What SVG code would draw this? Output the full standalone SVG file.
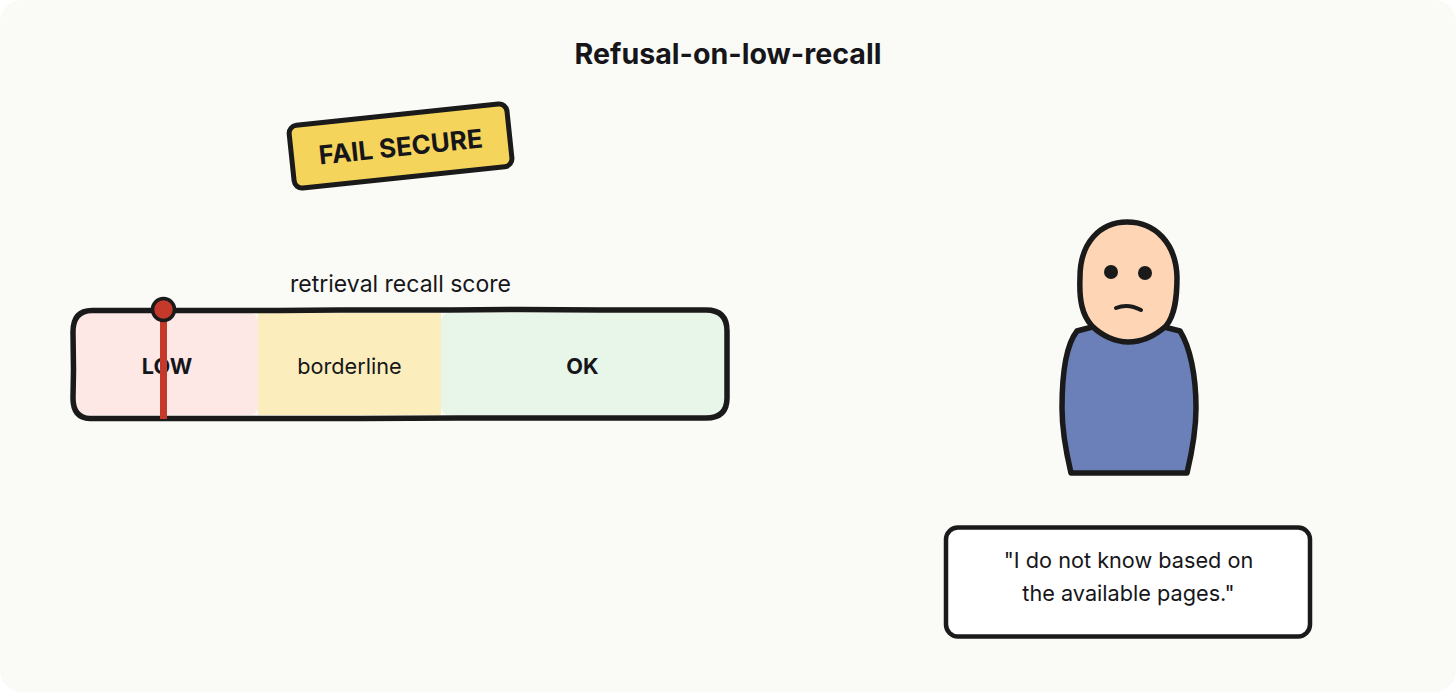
<svg xmlns="http://www.w3.org/2000/svg" width="1456" height="692" viewBox="0 0 1456 692">
<style>
text{font-family:Inter,"Liberation Sans",sans-serif;fill:#16161a;text-anchor:middle}
.ink{stroke:#1a1a1a;stroke-width:5;stroke-linejoin:round;stroke-linecap:round}
.lbl{font-size:21.7px}
.b{font-weight:700}
.sp{font-size:21.7px}
</style>
<rect width="1456" height="692" fill="#fff"/>
<rect width="1456" height="692" rx="22" fill="#fafaf6"/>
<text id="title" x="728" y="64" font-size="28.6" class="b">Refusal-on-low-recall</text>
<g id="badge" transform="rotate(-6 400.500 145.500)">
<rect x="291" y="114.500" width="219" height="63" rx="8" fill="#f5d45c" class="ink"/>
<text x="400.500" y="156" font-size="26" class="b">FAIL SECURE</text>
</g>
<text id="axis-label" x="400.500" y="291.500" style="font-size:23px">retrieval recall score</text>
<g id="meter">
<rect x="76" y="313" width="182" height="102" rx="8" fill="#fde8e6"/>
<rect x="258" y="313" width="183" height="102" fill="#fbeebc"/>
<rect x="441" y="313" width="284" height="102" rx="8" fill="#e8f5e9"/>
<path d="M92 310.500H210L280 310.500L340 310H450L520 309.500L600 310H706Q727 310 727 331V398Q727 418 706 418H460L360 418.500H90Q73 418 73 398L73.500 370L73 332Q73 310.500 92 310.500Z" fill="none" class="ink" style="stroke-width:5.500"/>
<text x="167" y="373.500" class="lbl b">LOW</text>
<text x="349.500" y="373.500" class="lbl">borderline</text>
<text x="582.500" y="373.500" class="lbl b">OK</text>
</g>
<g id="marker">
<rect x="160" y="312" width="7" height="107" fill="#c5392b"/>
<circle cx="163.500" cy="309.500" r="11" fill="#c5392b" stroke="#1a1a1a" stroke-width="3.500"/>
</g>
<g id="person">
<path d="M1077 331C1066 345 1062 375 1062 408C1062 430 1066 452 1071 473H1187C1192 452 1196 430 1196 408C1196 375 1190 347 1180 331L1160 326H1096Z" fill="#6b80b8" class="ink" style="stroke-width:5.500"/>
<path d="M1127 222C1100 222 1080 243 1080 277C1079 300 1082 315 1092 326C1102 336 1116 342 1128 342C1142 342 1156 335 1166 326C1175 315 1177 298 1177 277C1176 243 1155 222 1127 222Z" fill="#fed6b5" class="ink" style="stroke-width:5.500"/>
<circle cx="1111" cy="272" r="7" fill="#1a1a1a"/>
<circle cx="1145" cy="273" r="7" fill="#1a1a1a"/>
<path d="M1116 308Q1128 303 1141 310" fill="none" class="ink" style="stroke-width:4"/>
</g>
<g id="speech">
<rect x="946" y="527.500" width="364" height="109" rx="12" fill="#fff" class="ink" style="stroke-width:4.500"/>
<text x="1128.500" y="568" class="sp">"I do not know based on</text>
<text x="1128.500" y="600.500" class="sp">the available pages."</text>
</g>
<g id="connectors"/>
</svg>
